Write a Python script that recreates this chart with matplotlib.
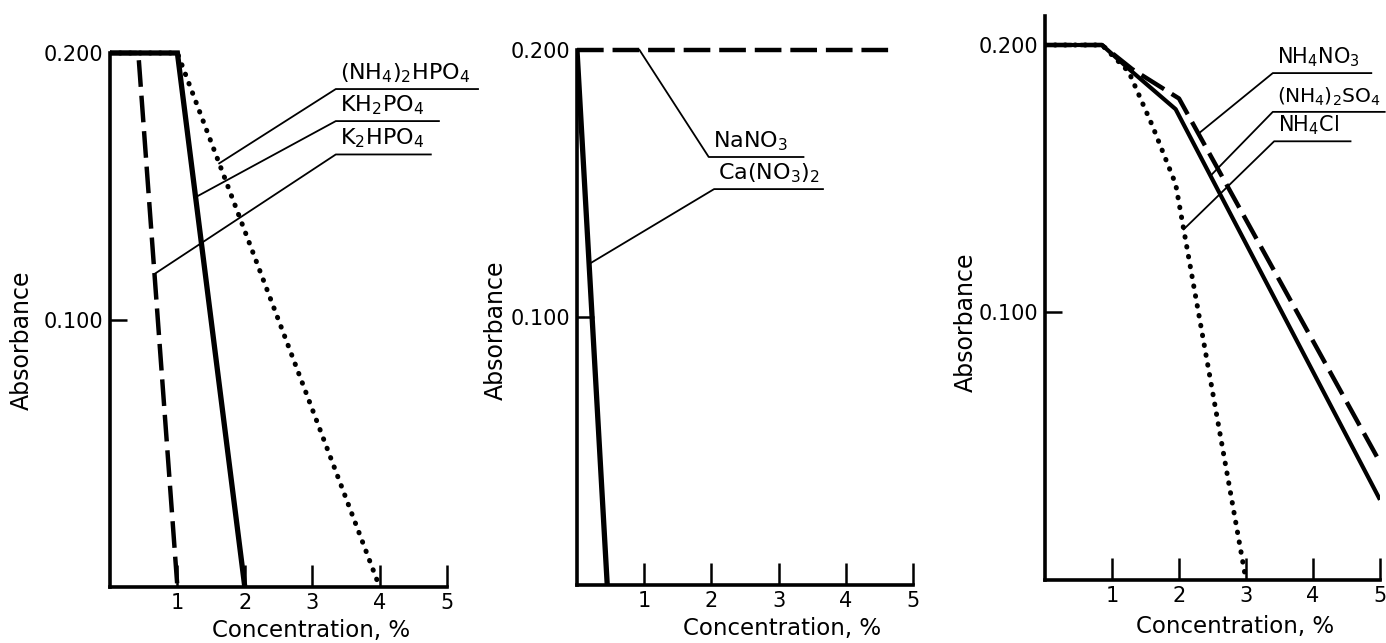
import numpy as np
import matplotlib.pyplot as plt

W, H = 1386, 643

# Panel 1: phosphates
p1_dap_x = [0.0, 1.0, 4.0]      # (NH4)2HPO4, dotted
p1_dap_y = [0.200, 0.200, 0.0]
p1_kh2_x = [0.0, 1.0, 2.0]      # KH2PO4, solid
p1_kh2_y = [0.200, 0.200, 0.0]
p1_k2h_x = [0.0, 0.42, 1.0]     # K2HPO4, dashed
p1_k2h_y = [0.200, 0.200, 0.0]

# Panel 2: nitrates
p2_na_x = [0.0, 4.75]           # NaNO3, dashed
p2_na_y = [0.200, 0.200]
p2_ca_x = [0.0, 0.45]           # Ca(NO3)2, solid
p2_ca_y = [0.200, 0.0]

# Panel 3: ammonium salts
p3_no3_x = [0.0, 0.85, 1.3, 2.0, 5.0]          # NH4NO3, dashed
p3_no3_y = [0.200, 0.200, 0.191, 0.180, 0.044]
p3_so4_x = [0.0, 0.85, 1.3, 1.95, 5.0]         # (NH4)2SO4, solid
p3_so4_y = [0.200, 0.200, 0.190, 0.176, 0.030]
p3_cl_x = [0.0, 0.85, 1.25, 1.6, 1.95, 3.0]    # NH4Cl, dotted
p3_cl_y = [0.200, 0.200, 0.190, 0.170, 0.148, 0.0]

x_ticks = [1, 2, 3, 4, 5]
y_ticks = [0.100, 0.200]
y_ticklabels = ['0.100', '0.200']

SOLID = dict(color='black', lw=3.8, solid_capstyle='butt', solid_joinstyle='miter', zorder=4)
DASHED = dict(color='black', lw=3.2, linestyle=(0, (6, 2)), dash_capstyle='butt', zorder=3)
DOTTED = dict(color='black', lw=3.6, linestyle=(0, (0.1, 1.9)), dash_capstyle='round', zorder=2)


def make_axes(fig, x0, y0, x5, y02, ytop):
    # pixel positions of x=0, y=0, x=5, y=0.2
    sy = (y0 - y02) / 0.2
    top = y0 - sy * 0.212
    ax = fig.add_axes([x0 / W, 1 - y0 / H, (x5 - x0) / W, (y0 - top) / H])
    ax.set_xlim(0, 5)
    ax.set_ylim(0, 0.212)
    ax.patch.set_alpha(0)
    for s in ['top', 'right']:
        ax.spines[s].set_visible(False)
    ax.spines['left'].set_bounds(0, ytop)
    ax.spines['bottom'].set_bounds(0, 5)
    for s in ['left', 'bottom']:
        ax.spines[s].set_linewidth(2.6)
    ax.set_xticks(x_ticks)
    ax.set_xticklabels([str(t) for t in x_ticks])
    ax.set_yticks(y_ticks)
    ax.set_yticklabels(y_ticklabels)
    ax.tick_params(axis='x', direction='in', length=16, width=1.8, pad=4, labelsize=15)
    ax.tick_params(axis='y', direction='in', length=12, width=1.8, pad=5, labelsize=15)
    return ax


def label(ax, text, x0, x1, yline, xt, xs, ys, size=16):
    yt = np.interp(xt, xs, ys)
    ax.plot([xt, x0, x1], [yt, yline, yline], color='black', lw=1.3, clip_on=False)
    ax.text(x0 + 0.06, yline + 0.0015, text, ha='left', va='bottom', fontsize=size, clip_on=False)


fig = plt.figure(figsize=(W / 100, H / 100), dpi=100)

# ---- panel 1
ax1 = make_axes(fig, 110, 587, 447, 53, 0.200)
ax1.plot(p1_dap_x, p1_dap_y, **DOTTED)
ax1.plot(p1_k2h_x, p1_k2h_y, **DASHED)
ax1.plot(p1_kh2_x, p1_kh2_y, **SOLID)
label(ax1, r'(NH$_4$)$_2$HPO$_4$', 3.35, 5.46, 0.1865, 1.62, p1_dap_x, p1_dap_y)
label(ax1, r'KH$_2$PO$_4$', 3.35, 4.88, 0.1745, 1.27, p1_kh2_x, p1_kh2_y)
label(ax1, r'K$_2$HPO$_4$', 3.35, 4.76, 0.162, 0.66, p1_k2h_x, p1_k2h_y)

# ---- panel 2
ax2 = make_axes(fig, 577, 585, 913, 50, 0.200)
ax2.plot(p2_na_x, p2_na_y, **DASHED)
ax2.plot(p2_ca_x, p2_ca_y, **SOLID)
label(ax2, r'NaNO$_3$', 1.96, 3.37, 0.160, 0.93, p2_na_x, p2_na_y)
label(ax2, r'Ca(NO$_3$)$_2$', 2.04, 3.66, 0.148, 0.18, p2_ca_x, p2_ca_y)

# ---- panel 3
ax3 = make_axes(fig, 1045, 580, 1380, 45, 0.211)
ax3.plot(p3_cl_x, p3_cl_y, **DOTTED)
ax3.plot(p3_no3_x, p3_no3_y, **DASHED)
ax3.plot(p3_so4_x, p3_so4_y, color='black', lw=3.0, solid_capstyle='butt', zorder=4)
label(ax3, r'NH$_4$NO$_3$', 3.40, 4.87, 0.1895, 2.29, p3_no3_x, p3_no3_y, 15)
label(ax3, r'(NH$_4$)$_2$SO$_4$', 3.40, 5.07, 0.175, 2.47, p3_so4_x, p3_so4_y, 14.5)
label(ax3, r'NH$_4$Cl', 3.42, 4.56, 0.164, 2.07, p3_cl_x, p3_cl_y, 15)

# axis titles
for xl, yl, xc, yc in [(22, 340, 311, 630), (496, 330, 782, 628), (966, 322, 1235, 626)]:
    fig.text(xl / W, 1 - yl / H, 'Absorbance', rotation=90, ha='center', va='center', fontsize=17)
    fig.text(xc / W, 1 - yc / H, 'Concentration, %', ha='center', va='center', fontsize=16.5)

fig.savefig('out.png', dpi=100)
